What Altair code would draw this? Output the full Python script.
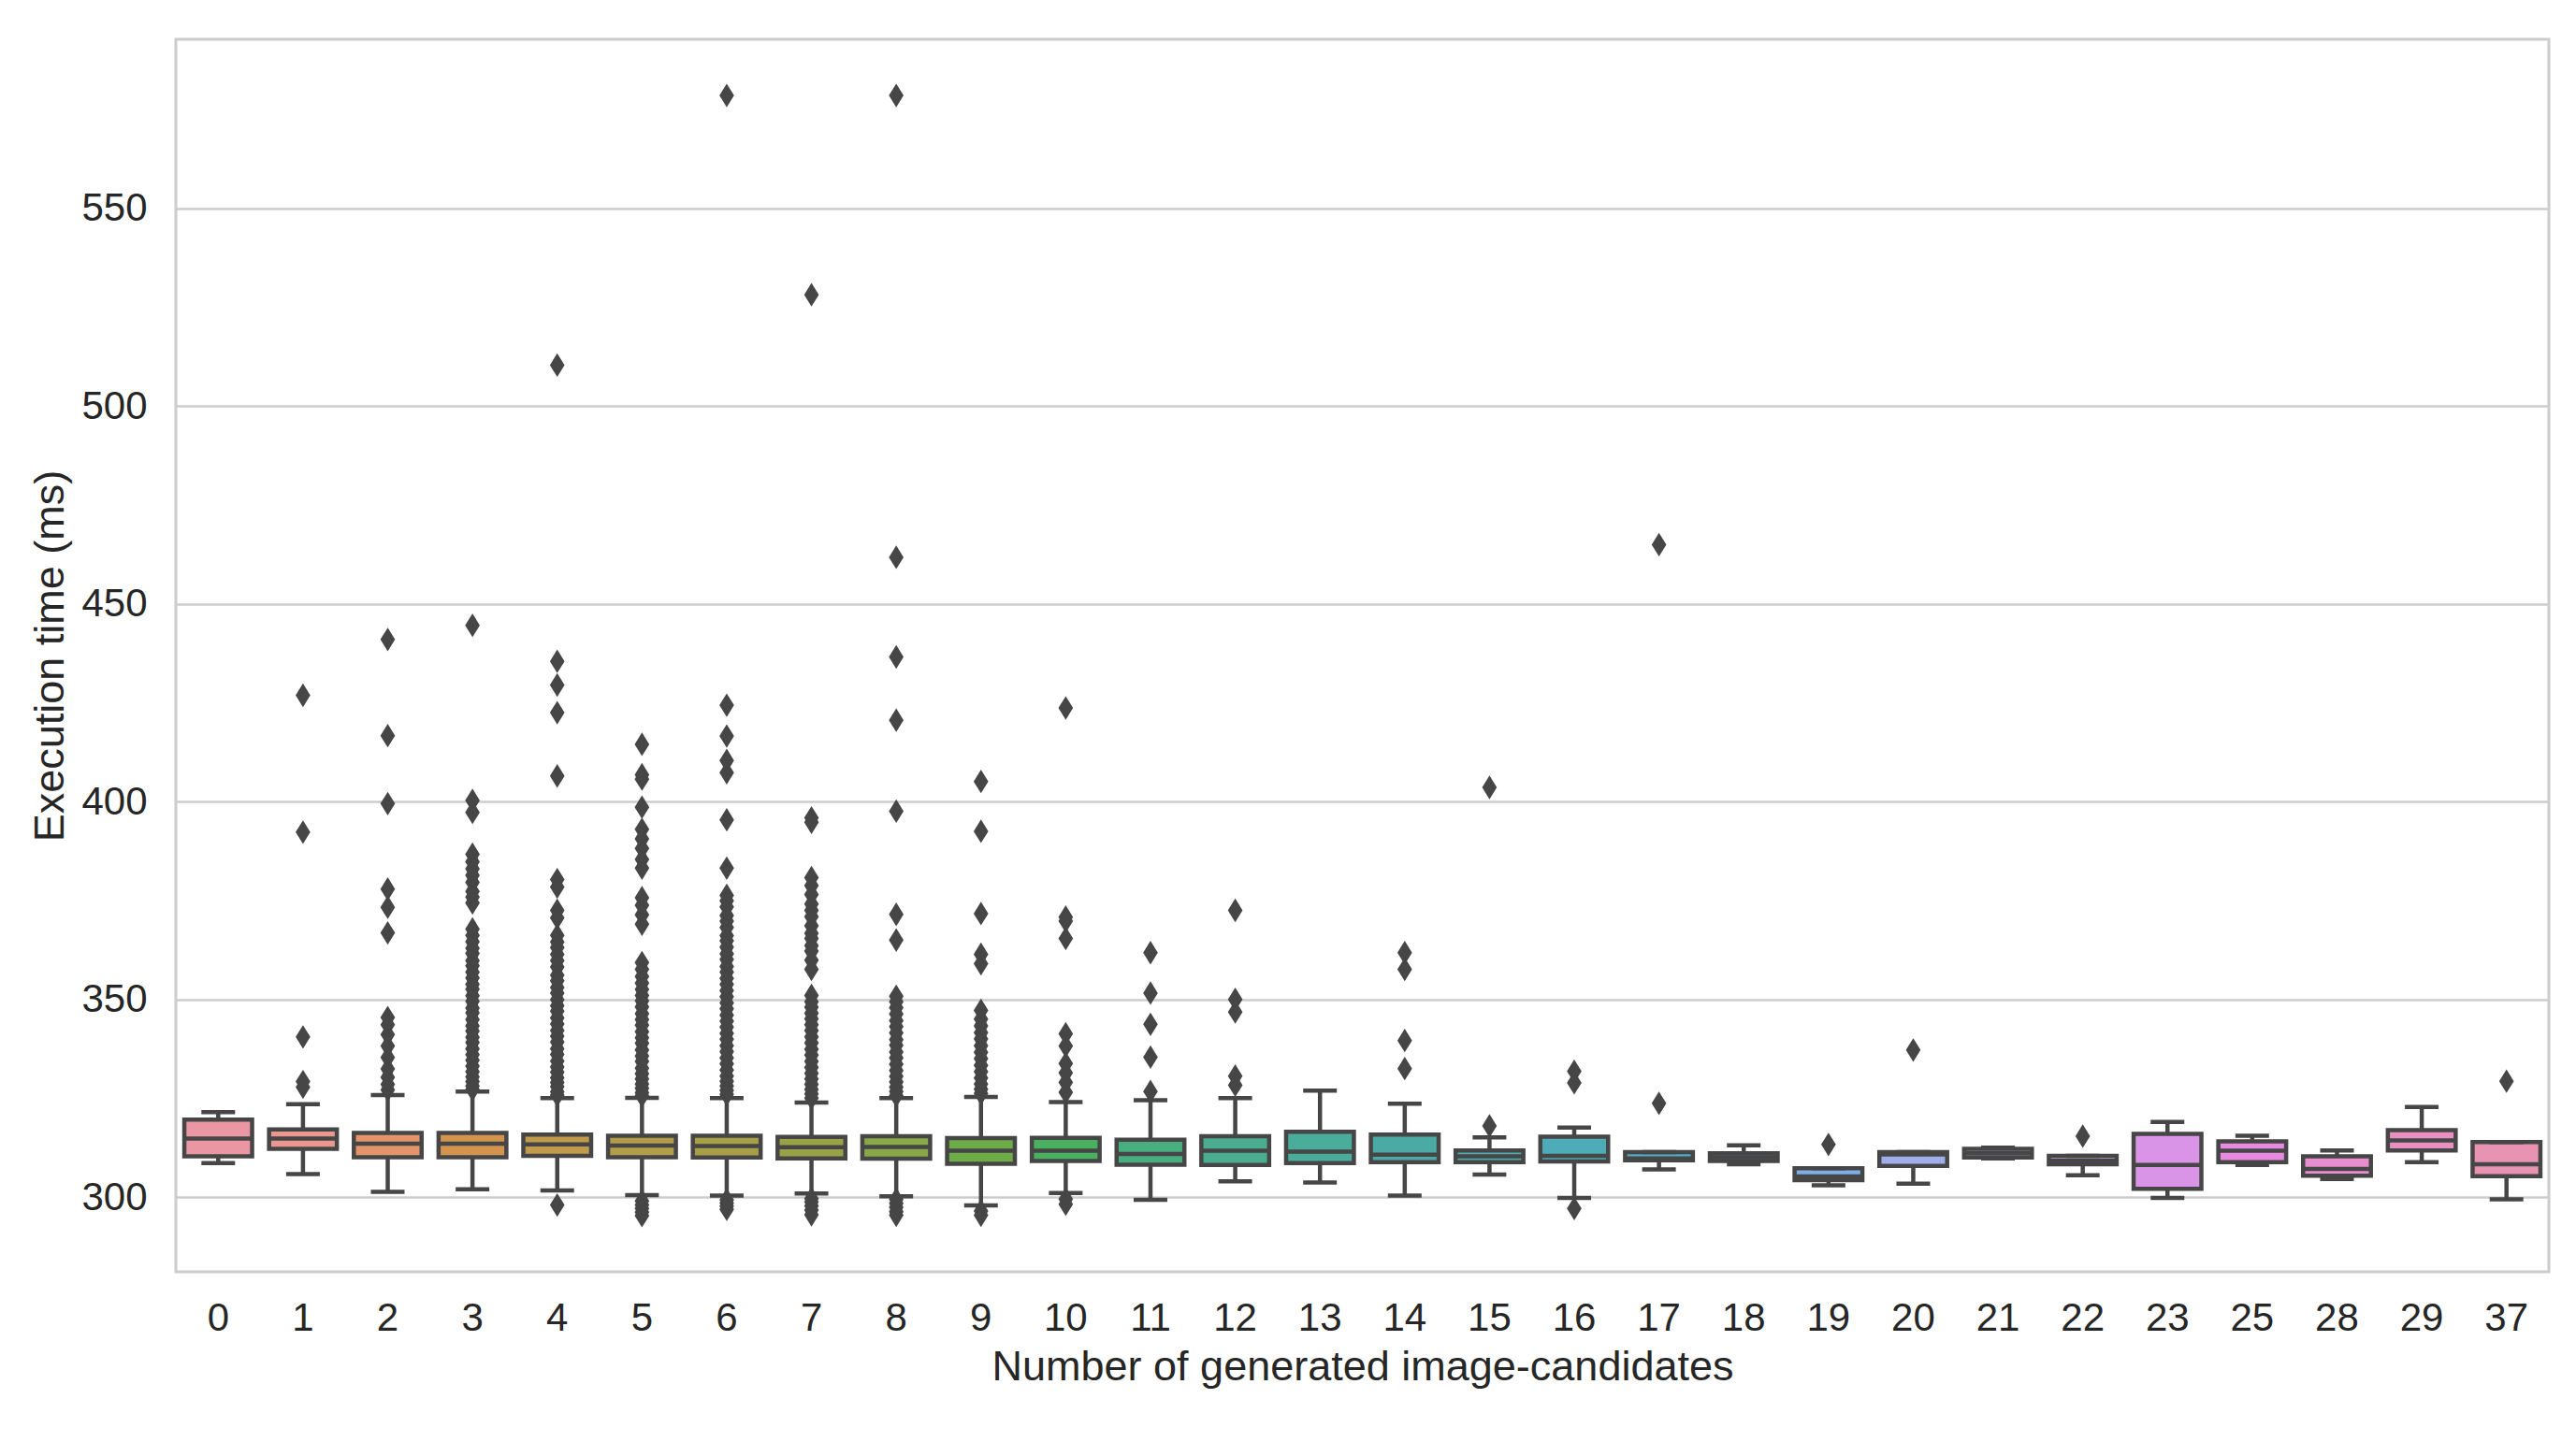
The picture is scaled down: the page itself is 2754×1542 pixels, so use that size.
import math
import colorsys
import altair as alt
import pandas as pd

# ---------------- data ----------------
cats = ["0", "1", "2", "3", "4", "5", "6", "7", "8", "9", "10", "11", "12", "13",
        "14", "15", "16", "17", "18", "19", "20", "21", "22", "23", "25", "28", "29", "37"]

q1s = [310.3, 312.2, 310.1, 310.1, 310.4, 310.1, 310.0, 309.8, 309.7, 308.4, 309.1, 308.2, 308.1, 308.6,
       308.8, 308.8, 309.0, 309.3, 309.1, 304.3, 307.9, 310.0, 308.3, 302.1, 308.8, 305.4, 311.8, 305.3]
medians = [314.8, 314.8, 313.5, 313.5, 313.3, 313.0, 312.9, 312.6, 312.7, 311.7, 311.7, 310.9, 311.7, 311.5,
           310.7, 310.3, 310.4, 309.8, 310.1, 305.2, 310.8, 311.1, 309.2, 308.1, 311.7, 307.1, 314.3, 308.3]
q3s = [319.6, 317.1, 316.2, 316.2, 315.8, 315.5, 315.5, 315.2, 315.4, 314.9, 315.0, 314.5, 315.4, 316.5,
       315.8, 311.8, 315.3, 311.4, 311.1, 307.3, 311.4, 312.2, 310.4, 316.0, 314.1, 310.3, 316.9, 313.9]
whisker_lo = [308.6, 305.8, 301.3, 302.0, 301.7, 300.5, 300.4, 300.9, 300.2, 297.9, 301.0, 299.3, 304.0, 303.7,
              300.4, 305.7, 299.8, 307.0, 308.3, 303.0, 303.4, 309.8, 305.5, 299.8, 308.1, 304.6, 308.8, 299.4]
whisker_hi = [321.5, 323.5, 325.8, 326.7, 325.0, 325.1, 325.0, 323.9, 325.0, 325.3, 324.0, 324.5, 325.0, 326.9,
              323.6, 315.1, 317.6, 311.4, 313.1, 307.3, 311.4, 312.5, 310.4, 319.0, 315.5, 311.8, 322.8, 313.9]

o0 = []
o1 = [426.9, 392.3, 340.5, 329.2, 327.8]
o2 = [441.0, 416.7, 399.5, 377.9, 373.3, 366.8, 345.4, 343.6, 341.1, 338.2, 335.3, 332.4, 330.3, 328.5, 327.1]
o3 = [444.6, 400.3, 397.3, 386.7, 384.8, 383.0, 381.4, 379.6, 377.3, 375.9, 374.4, 367.8, 366.2, 364.6,
      362.9, 361.6, 359.8, 358.5, 356.9, 355.4, 353.8, 352.6, 350.9, 349.5, 347.8, 346.6, 344.9, 343.3,
      342.0, 340.4, 339.1, 337.5, 336.0, 334.6, 333.1, 331.7, 330.4, 329.2, 328.1, 327.2]
o4 = [510.4, 435.5, 429.5, 422.5, 406.5, 380.3, 378.4, 372.5, 370.6, 366.2, 364.5, 363.1, 361.4, 359.8,
      358.2, 356.1, 354.7, 353.0, 351.6, 349.9, 348.4, 347.0, 345.3, 343.8, 342.1, 340.7, 339.2, 337.5,
      336.1, 334.4, 332.9, 331.6, 330.2, 329.0, 327.9, 326.6, 325.8, 298.0]
o5 = [414.5, 406.8, 405.7, 398.6, 393.0, 390.6, 388.2, 385.4, 383.2, 375.7, 373.8, 371.4, 369.0, 359.3,
      357.6, 355.8, 354.1, 352.5, 351.0, 349.6, 348.1, 346.4, 344.9, 343.5, 341.8, 340.3, 338.9, 337.2,
      335.7, 334.3, 332.6, 331.2, 329.9, 328.6, 327.5, 326.4, 325.6, 299.0, 298.0, 297.1, 296.2, 295.3]
o6 = [578.6, 424.4, 416.6, 410.4, 407.3, 395.4, 383.2, 376.3, 374.9, 373.4, 371.2, 369.8, 368.2, 366.1,
      364.8, 363.2, 361.5, 360.1, 358.3, 356.9, 355.3, 353.8, 352.2, 350.7, 349.1, 347.6, 346.0, 344.5,
      343.0, 341.4, 339.9, 338.3, 336.8, 335.2, 333.7, 332.1, 330.6, 329.3, 328.1, 327.0, 326.0,
      299.3, 298.5, 297.7, 296.9]
o7 = [528.2, 395.9, 394.8, 380.8, 378.8, 376.5, 374.1, 372.5, 370.9, 368.6, 366.7, 365.4, 363.6, 362.2,
      359.9, 357.6, 351.0, 349.4, 348.0, 346.5, 345.1, 343.6, 342.1, 340.5, 339.0, 337.4, 335.9, 334.3,
      332.8, 331.3, 329.9, 328.5, 327.2, 326.1, 325.0, 299.6, 298.8, 297.8, 296.7, 295.5]
o8 = [578.6, 461.8, 436.6, 420.6, 397.6, 371.5, 365.0, 350.8, 349.4, 347.9, 346.3, 344.6, 343.1, 341.5,
      339.8, 338.4, 336.7, 335.2, 333.6, 332.0, 330.5, 329.1, 327.8, 326.7, 325.7,
      299.4, 298.4, 297.4, 296.3, 295.4]
o9 = [405.1, 392.5, 371.7, 361.4, 359.0, 347.2, 345.0, 343.3, 341.6, 340.0, 338.3, 336.6, 335.0, 333.3,
      331.7, 330.1, 328.6, 327.3, 326.2, 296.5, 295.4]
o10 = [423.7, 370.8, 369.8, 365.4, 341.3, 338.2, 333.8, 331.4, 329.0, 326.5, 299.5, 298.2]
o11 = [361.8, 351.6, 343.7, 335.4, 326.7]
o12 = [372.5, 350.0, 346.8, 330.6, 328.3]
o13 = []
o14 = [361.8, 357.6, 339.6, 332.5]
o15 = [403.6, 318.0]
o16 = [331.8, 328.9, 297.1]
o17 = [465.0, 323.7]
o18 = []
o19 = [313.3]
o20 = [337.2]
o21 = []
o22 = [315.4]
o23 = []
o25 = []
o28 = []
o29 = []
o37 = [329.3]
outliers = [o0, o1, o2, o3, o4, o5, o6, o7, o8, o9, o10, o11, o12, o13, o14, o15, o16, o17,
            o18, o19, o20, o21, o22, o23, o25, o28, o29, o37]

# ---------------- seaborn-style husl palette (l=.7, desat .75) ----------------
_M = [[3.2406, -1.5372, -0.4986], [-0.9689, 1.8758, 0.0415], [0.0557, -0.2040, 1.0570]]
_refU, _refV = 0.19784, 0.46834


def _max_chroma(L, H):
    hrad = math.radians(H)
    sinH, cosH = math.sin(hrad), math.cos(hrad)
    sub1 = (L + 16) ** 3 / 1560896.0
    sub2 = sub1 if sub1 > 0.008856 else L / 903.3
    result = float("inf")
    for m1, m2, m3 in _M:
        top = (0.99915 * m1 + 1.05122 * m2 + 1.14460 * m3) * sub2
        rbottom = 0.86330 * m3 - 0.17266 * m2
        lbottom = 0.12949 * m3 - 0.38848 * m1
        bottom = (rbottom * sinH + lbottom * cosH) * sub2
        for t in (0.0, 1.0):
            C = L * (top - 1.05122 * t) / (bottom + 0.17266 * sinH * t)
            if 0.0 < C < result:
                result = C
    return result


def _husl_to_rgb(H, S, L):
    C = _max_chroma(L, H) / 100.0 * S
    hrad = math.radians(H)
    U, V = math.cos(hrad) * C, math.sin(hrad) * C
    t = (L + 16.0) / 116.0
    varY = t ** 3 if t ** 3 > 0.008856 else (116.0 * t - 16.0) / 903.3
    varU = U / (13.0 * L) + _refU
    varV = V / (13.0 * L) + _refV
    Y = varY
    X = 0.0 - (9.0 * Y * varU) / ((varU - 4.0) * varV - varU * varV)
    Z = (9.0 * Y - (15.0 * varV * Y) - (varV * X)) / (3.0 * varV)
    out = []
    for row in _M:
        c = row[0] * X + row[1] * Y + row[2] * Z
        c = 12.92 * c if c <= 0.0031308 else 1.055 * c ** (1 / 2.4) - 0.055
        out.append(min(max(c, 0.0), 1.0))
    return out


def _hex(rgb):
    return "#" + "".join("%02x" % int(round(v * 255)) for v in rgb)


n = len(cats)
colors = []
lights = []
for i in range(n):
    h = ((i / n) + 0.01) % 1 * 359
    r, g, b = _husl_to_rgb(h, 0.9 * 99, 0.7 * 99)
    hh, ll, ss = colorsys.rgb_to_hls(r, g, b)
    ss *= 0.75
    colors.append(_hex(colorsys.hls_to_rgb(hh, ll, ss)))
    lights.append(ll)
lum = min(lights) * 0.6
gray = _hex((lum, lum, lum))

# ---------------- tables ----------------
stats = pd.DataFrame({"cat": cats, "q1": q1s, "med": medians, "q3": q3s,
                      "lo": whisker_lo, "hi": whisker_hi})
flier_rows = [{"cat": c, "value": v} for c, vals in zip(cats, outliers) for v in vals]
fliers = pd.DataFrame(flier_rows)

LW = 4.5
x_enc = alt.X("cat:N", sort=cats, title="Number of generated image-candidates",
              scale=alt.Scale(paddingInner=0, paddingOuter=0),
              axis=alt.Axis(labelAngle=0, grid=False, ticks=False, tickSize=0, domain=False,
                            labelPadding=29, titlePadding=9))
y_scale = alt.Scale(domain=[281.1, 592.8], nice=False, zero=False)
y_axis = alt.Axis(values=[300, 350, 400, 450, 500, 550], format="d", grid=True, ticks=False,
                  tickSize=0, domain=False, labelPadding=31, titlePadding=10)

base = alt.Chart(stats).encode(x=x_enc)

whisk_low = base.mark_rule(color=gray, strokeWidth=LW).encode(
    y=alt.Y("lo:Q", scale=y_scale, axis=y_axis, title="Execution time (ms)"), y2="q1:Q")
whisk_high = base.mark_rule(color=gray, strokeWidth=LW).encode(
    y=alt.Y("q3:Q", scale=y_scale), y2="hi:Q")
boxes = base.mark_bar(width=alt.RelativeBandSize(0.8), stroke=gray, strokeWidth=LW).encode(
    y=alt.Y("q1:Q", scale=y_scale), y2="q3:Q",
    color=alt.Color("cat:N", scale=alt.Scale(domain=cats, range=colors), legend=None))
med_ticks = base.mark_tick(color=gray, size=72.5, thickness=LW, opacity=1).encode(
    y=alt.Y("med:Q", scale=y_scale))
cap_lo = base.mark_tick(color=gray, size=36, thickness=LW, opacity=1).encode(
    y=alt.Y("lo:Q", scale=y_scale))
cap_hi = base.mark_tick(color=gray, size=36, thickness=LW, opacity=1).encode(
    y=alt.Y("hi:Q", scale=y_scale))
points = alt.Chart(fliers).mark_point(
    shape="M0,-1L0.62,0L0,1L-0.62,0Z", filled=True, size=640, color=gray, opacity=1,
    strokeWidth=0).encode(
    x=alt.X("cat:N", sort=cats),
    y=alt.Y("value:Q", scale=y_scale))

chart = alt.layer(whisk_low, whisk_high, boxes, med_ticks, cap_lo, cap_hi, points).properties(
    width=2537, height=1318,
    autosize=alt.AutoSizeParams(type="none"),
    padding={"left": 180, "top": 34, "right": 12, "bottom": 150},
    background="white",
).configure_view(
    stroke="#cccccc", strokeWidth=3,
).configure_axis(
    labelFont="Liberation Sans", titleFont="Liberation Sans",
    labelFontSize=42, titleFontSize=45, labelColor="#262626", titleColor="#262626",
    titleFontWeight="normal", gridColor="#cccccc", gridWidth=2.7,
)

chart.save("out.html", embed_options={"renderer": "svg", "actions": False})
